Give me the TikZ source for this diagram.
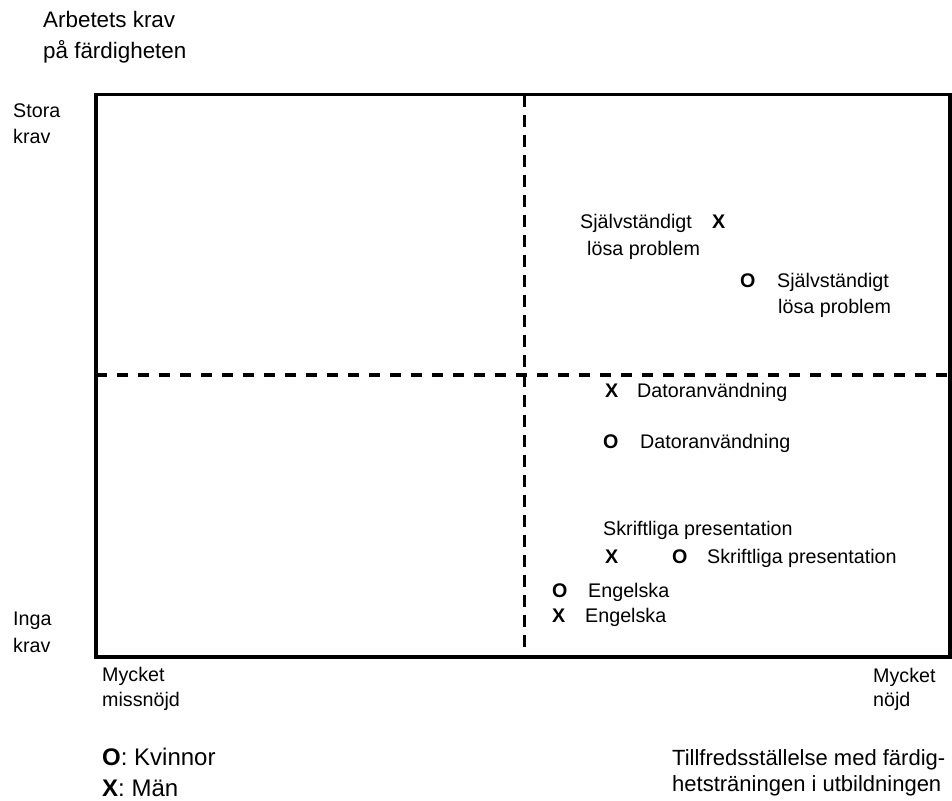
\documentclass[tikz,border=0pt]{standalone}
\usepackage{fontspec}
\setmainfont{Liberation Sans}
\begin{document}
\begin{tikzpicture}[x=1pt,y=-1pt,
  lbl/.style={anchor=base west,inner sep=0pt,font=\fontsize{19.7}{24}\selectfont},
  mk/.style={anchor=base west,inner sep=0pt,font=\fontsize{19.7}{24}\selectfont\bfseries},
  ttl/.style={anchor=base west,inner sep=0pt,font=\fontsize{22.4}{27}\selectfont},
  leg/.style={anchor=base west,inner sep=0pt,font=\fontsize{24}{28}\selectfont},
  axt/.style={anchor=base west,inner sep=0pt,font=\fontsize{22}{26}\selectfont},
  frame/.style={line width=3.6pt},
  vdash/.style={line width=3pt,dash pattern=on 12pt off 8pt},
  hdash/.style={line width=3.5pt,dash pattern=on 11pt off 10pt}]
\useasboundingbox (0,0) rectangle (952,800);
% frame corners
\coordinate (tl) at (96,94.5);
\coordinate (br) at (950,657);
\coordinate (vt) at (524.5,94.5);
\coordinate (vb) at (524.5,657);
\coordinate (hl) at (96,375);
\coordinate (hr) at (950,375);
\draw[vdash] (vt) -- (vb);
\draw[hdash] (hl) -- (hr);
\draw[frame] (tl) rectangle (br);
% axis titles
\node[ttl] (t1) at (43,28) {Arbetets krav};
\node[ttl] (t2) at (43,58.5) {på färdigheten};
\node[lbl] (s1) at (13,117) {Stora};
\node[lbl] (s2) at (13,143) {krav};
\node[lbl] (i1) at (13,625) {Inga};
\node[lbl] (i2) at (13,652) {krav};
\node[lbl] (m1) at (102,681) {Mycket};
\node[lbl] (m2) at (102,706) {missnöjd};
\node[lbl] (n1) at (873,682) {Mycket};
\node[lbl] (n2) at (873,706) {nöjd};
\node[leg] (k) at (102,765) {\textbf{O}: Kvinnor};
\node[leg] (mn) at (102,796) {\textbf{X}: Män};
\node[axt] (a1) at (672,765) {Tillfredsställelse med färdig-};
\node[axt] (a2) at (672,791) {hetsträningen i utbildningen};
% data points
\node[lbl] (sx1) at (580,228) {Självständigt};
\node[mk] (sx) at (712,228) {X};
\node[lbl] (sx2) at (587,255) {lösa problem};
\node[mk] (so) at (740,287) {O};
\node[lbl] (so1) at (777,287) {Självständigt};
\node[lbl] (so2) at (778,313) {lösa problem};
\node[mk] (dx) at (605,397) {X};
\node[lbl] (dxl) at (637,397) {Datoranvändning};
\node[mk] (do) at (603,448) {O};
\node[lbl] (dol) at (640,448) {Datoranvändning};
\node[lbl] (pxl) at (603,535) {Skriftliga presentation};
\node[mk] (px) at (605,563) {X};
\node[mk] (po) at (672,563) {O};
\node[lbl] (pol) at (707,563) {Skriftliga presentation};
\node[mk] (eo) at (552,597) {O};
\node[lbl] (eol) at (588,597) {Engelska};
\node[mk] (ex) at (552,622) {X};
\node[lbl] (exl) at (585,622) {Engelska};
\end{tikzpicture}
\end{document}
